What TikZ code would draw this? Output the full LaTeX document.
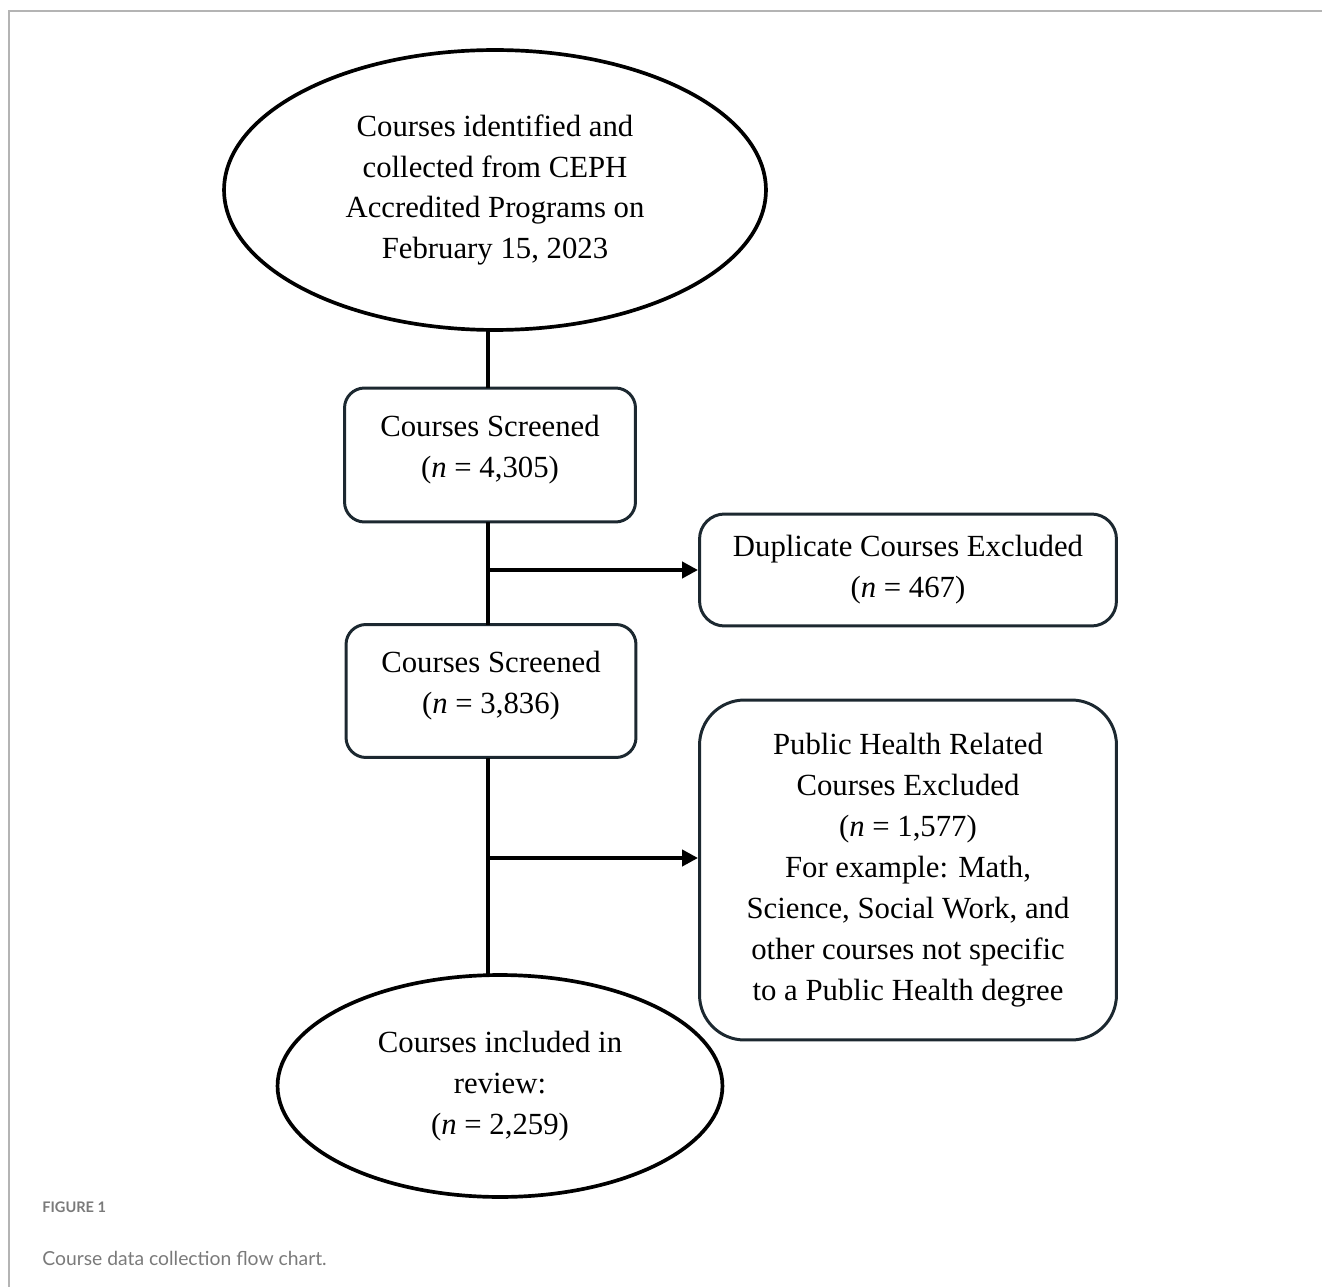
\documentclass[tikz,border=0pt]{standalone}
\usepackage{fontspec}
\setmainfont{Liberation Serif}
\newfontfamily\capfont{Lato}
\usetikzlibrary{arrows.meta,shapes.geometric}
\definecolor{boxline}{HTML}{1C2830}
\definecolor{framegrey}{HTML}{B4B4B4}
\definecolor{capgrey}{HTML}{7A7A7A}
\tikzset{
  flowtext/.style={align=center,font=\fontsize{17.5}{23.3}\selectfont},
  oval/.style={ellipse,draw=black,line width=2.1pt,inner sep=0pt,flowtext},
  stepbox/.style={draw=boxline,line width=1.7pt,rounded corners=0.4cm,inner sep=0pt,flowtext},
  link/.style={line width=2.4pt,draw=black},
  exclarrow/.style={link,-{Triangle[length=9pt,width=9pt]}}
}
\begin{document}
\begin{tikzpicture}[x=0.02cm,y=-0.02cm]
      \useasboundingbox (0,0) rectangle (1322,1287);
      \draw[framegrey,line width=1pt] (9,1287) -- (9,11) -- (1322,11);
      % flow chart
      \node[oval,minimum width=10.84cm,minimum height=5.6cm] (ident) at (495,190)
        {Courses identified and\\collected from CEPH\\Accredited Programs on\\February 15, 2023};
      \node[stepbox,minimum width=5.82cm,minimum height=2.68cm] (scr1) at (490,455)
        {Courses Screened\\(\textit{n} = 4,305)\\[-13pt]};
      \node[stepbox,minimum width=8.34cm,minimum height=2.24cm,rounded corners=0.5cm] (dup) at (908,570)
        {Duplicate Courses Excluded\\(\textit{n} = 467)};
      \node[stepbox,minimum width=5.8cm,minimum height=2.66cm] (scr2) at (491,691)
        {Courses Screened\\(\textit{n} = 3,836)\\[-13pt]};
      \node[stepbox,minimum width=8.34cm,minimum height=6.8cm,rounded corners=0.9cm] (pub) at (908,870)
        {Public Health Related\\Courses Excluded\\(\textit{n} = 1,577)\\For example: Math,\\Science, Social Work, and\\other courses not specific\\to a Public Health degree};
      \node[oval,minimum width=8.9cm,minimum height=4.44cm] (incl) at (500,1086)
        {Courses included in\\review:\\(\textit{n} = 2,259)};
      \coordinate (b1) at (488,570);
      \coordinate (b2) at (488,858);
      \begin{scope}[link]
        \draw (488,330) -- (488,388);
        \draw (488,522) -- (488,625);
        \draw (488,758) -- (488,976);
      \end{scope}
      \draw[exclarrow] (b1) -- (dup.west);
      \draw[exclarrow] (b2) -- (b2 -| pub.west);
      % caption
      \node[anchor=west,inner sep=0pt,text=capgrey,font=\capfont\bfseries\fontsize{8.3}{10}\selectfont] (capnum) at (42,1207) {FIGURE 1};
      \node[anchor=west,inner sep=0pt,text=capgrey,font=\capfont\fontsize{11}{13}\selectfont] (captext) at (42,1258) {Course data collection flow chart.};
    \end{tikzpicture}
\end{document}
